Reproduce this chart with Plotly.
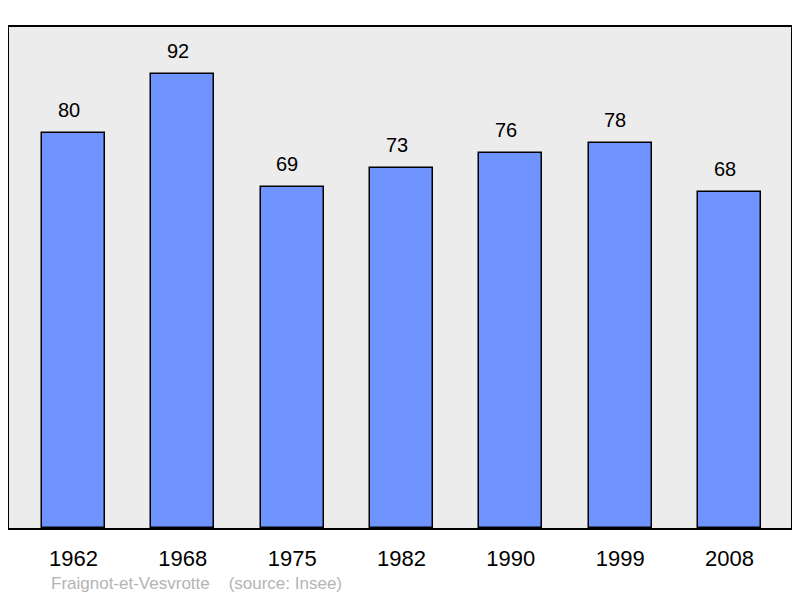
import plotly.graph_objects as go

years = ["1962", "1968", "1975", "1982", "1990", "1999", "2008"]
population = [80, 92, 69, 73, 76, 78, 68]
place = "Fraignot-et-Vesvrotte"
source = "(source: Insee)"

xs = list(range(len(years)))

fig = go.Figure()
fig.add_trace(go.Bar(
    x=xs, y=population, width=0.576,
    marker=dict(color="#7094ff", line=dict(color="black", width=1.5)),
    hoverinfo="skip",
))

for x, v in zip(xs, population):
    fig.add_annotation(x=x, y=v, text=str(v), showarrow=False,
                       yanchor="bottom", yshift=10, xshift=-5,
                       font=dict(family="Liberation Sans", size=20, color="black"))

fig.add_annotation(xref="paper", yref="paper", x=0.051, y=-0.11, xanchor="left", yanchor="middle",
                   text=place + "&nbsp;&nbsp;&nbsp;&nbsp;" + source, showarrow=False,
                   font=dict(family="Liberation Sans", size=17, color="#b4b4b4"))

fig.update_layout(
    width=792, height=590,
    margin=dict(l=1, r=9, t=19, b=70),
    paper_bgcolor="white", plot_bgcolor="#ececec",
    showlegend=False,
    bargap=0,
    xaxis=dict(range=[-0.59, 6.5625], tickvals=xs, ticktext=years,
               showline=True, mirror=True, linecolor="black", linewidth=2,
               showgrid=False, zeroline=False, ticks="outside", ticklen=10,
               tickcolor="rgba(0,0,0,0)",
               tickfont=dict(family="Liberation Sans", size=22, color="black")),
    yaxis=dict(range=[0, 101.47], showline=True, mirror=True, linecolor="black", linewidth=2,
               showgrid=False, zeroline=False, showticklabels=False, ticks=""),
)

fig.write_html("out.html")
